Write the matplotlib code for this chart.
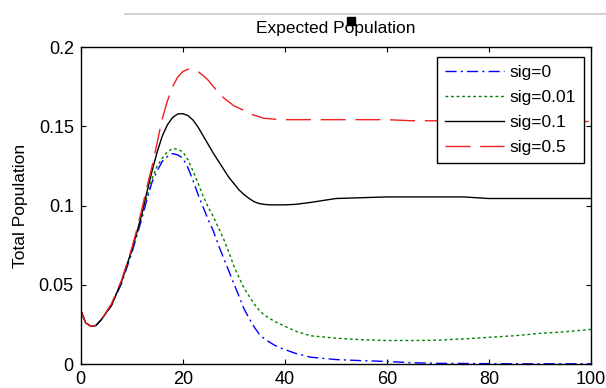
import numpy as np
import matplotlib
matplotlib.use("Agg")
import matplotlib.pyplot as plt
from matplotlib.lines import Line2D
from matplotlib.patches import Rectangle

plt.rcParams['font.family'] = ['Liberation Sans', 'DejaVu Sans']

# time axis samples
t = [0, 1, 2, 3, 4, 6, 8, 10, 11, 12, 13, 14, 15, 16, 17, 18, 19, 20, 21, 22,
     23, 24, 25, 26, 27, 28, 29, 30, 31, 32, 33, 34, 35, 36, 37, 38, 39, 40,
     42, 45, 50, 55, 60, 65, 70, 75, 80, 85, 90, 95, 100]

sig0 = [0.034, 0.026, 0.024, 0.0245, 0.028, 0.037, 0.051,
        0.070, 0.081, 0.092, 0.104, 0.115, 0.122, 0.128, 0.131, 0.1328, 0.132,
        0.130, 0.124, 0.116, 0.107, 0.099, 0.091, 0.084, 0.075, 0.067, 0.059,
        0.051, 0.043, 0.035, 0.029, 0.0235, 0.019, 0.016, 0.014, 0.012, 0.0105,
        0.0093, 0.007, 0.0045, 0.003, 0.0023, 0.0018, 0.001, 0.0006,
        0.0005, 0.0004, 0.0003, 0.0003, 0.0003, 0.0003]

sig001 = [0.034, 0.026, 0.024, 0.0245, 0.028, 0.037, 0.052,
          0.071, 0.082, 0.094, 0.106, 0.117, 0.125, 0.130, 0.134, 0.136, 0.1355,
          0.134, 0.129, 0.122, 0.114, 0.106, 0.099, 0.093, 0.086, 0.079, 0.071,
          0.062, 0.055, 0.048, 0.043, 0.038, 0.034, 0.031, 0.029, 0.027, 0.0255,
          0.024, 0.021, 0.018, 0.0165, 0.0155, 0.015, 0.015, 0.0152,
          0.016, 0.017, 0.018, 0.0195, 0.0205, 0.022]

sig01 = [0.034, 0.026, 0.024, 0.0245, 0.028, 0.037, 0.052,
         0.072, 0.083, 0.095, 0.109, 0.122, 0.134, 0.144, 0.151, 0.1555, 0.1578,
         0.158, 0.1568, 0.154, 0.1495, 0.144, 0.1385, 0.133, 0.128, 0.123, 0.118,
         0.114, 0.110, 0.107, 0.1045, 0.1025, 0.1013, 0.1008, 0.1005, 0.1005, 0.1005,
         0.1005, 0.1008, 0.102, 0.1045, 0.105, 0.1055, 0.1055, 0.1055,
         0.1055, 0.1045, 0.1045, 0.1045, 0.1045, 0.1045]

sig05 = [0.034, 0.026, 0.024, 0.0245, 0.028, 0.038, 0.053,
         0.073, 0.085, 0.098, 0.112, 0.125, 0.140, 0.155, 0.166, 0.175, 0.181,
         0.1845, 0.186, 0.186, 0.1845, 0.182, 0.179, 0.175, 0.1715, 0.168, 0.1655,
         0.163, 0.1615, 0.160, 0.158, 0.157, 0.156, 0.155, 0.1548, 0.1545, 0.1543,
         0.1542, 0.1542, 0.1542, 0.1542, 0.1542, 0.1542, 0.1535, 0.1535,
         0.1535, 0.1535, 0.1535, 0.1535, 0.1533, 0.153]

labels = ["sig=0", "sig=0.01", "sig=0.1", "sig=0.5"]
xticks = [0, 20, 40, 60, 80, 100]
yticks = [0, 0.05, 0.1, 0.15, 0.2]
yticklabels = ["0", "0.05", "0.1", "0.15", "0.2"]

W, H = 606, 388
fig = plt.figure(figsize=(W / 100, H / 100), dpi=100)
ax = fig.add_axes([80.7 / W, 1 - 364.3 / H, (591 - 80.7) / W, (364.3 - 47) / H])

ax.plot(t, sig0, color="blue", lw=1.0, dashes=(8, 3, 1.5, 3), label=labels[0])
ax.plot(t, sig001, color="#008000", lw=1.0, dashes=(2, 2), label=labels[1])
ax.plot(t, sig01, color="black", lw=1.0, label=labels[2])
ax.plot(t, sig05, color="#ee2020", lw=1.0, dashes=(18, 7), label=labels[3])

ax.set_xlim(0, 100)
ax.set_ylim(0, 0.2)
ax.set_xticks(xticks)
ax.set_yticks(yticks)
ax.set_yticklabels(yticklabels)
ax.tick_params(direction="in", length=3.6, width=0.8, top=True, right=True,
               labelsize=13, pad=5)
for s in ax.spines.values():
    s.set_linewidth(1.0)

ax.set_title("Expected Population", fontsize=12.5, pad=10)
ax.set_ylabel("Total Population", fontsize=12.5, labelpad=8)

leg = ax.legend(loc="upper right", bbox_to_anchor=(0.9863, 0.9685), borderaxespad=0,
                fontsize=12.5, handlelength=3.4, handletextpad=0.35,
                labelspacing=0.57, fancybox=False, framealpha=1,
                edgecolor="black", borderpad=0.45)
leg.get_frame().set_linewidth(1.0)

# grey rule at the top and the black artefact over the title
fig.add_artist(Line2D([125 / W, 1.0], [1 - 14 / H, 1 - 14 / H], color="#c8c8c8", lw=1.2))
fig.add_artist(Rectangle((347 / W, 1 - 25 / H), 8 / W, 8 / H, color="black", zorder=10))

fig.savefig("out.png", dpi=100)
